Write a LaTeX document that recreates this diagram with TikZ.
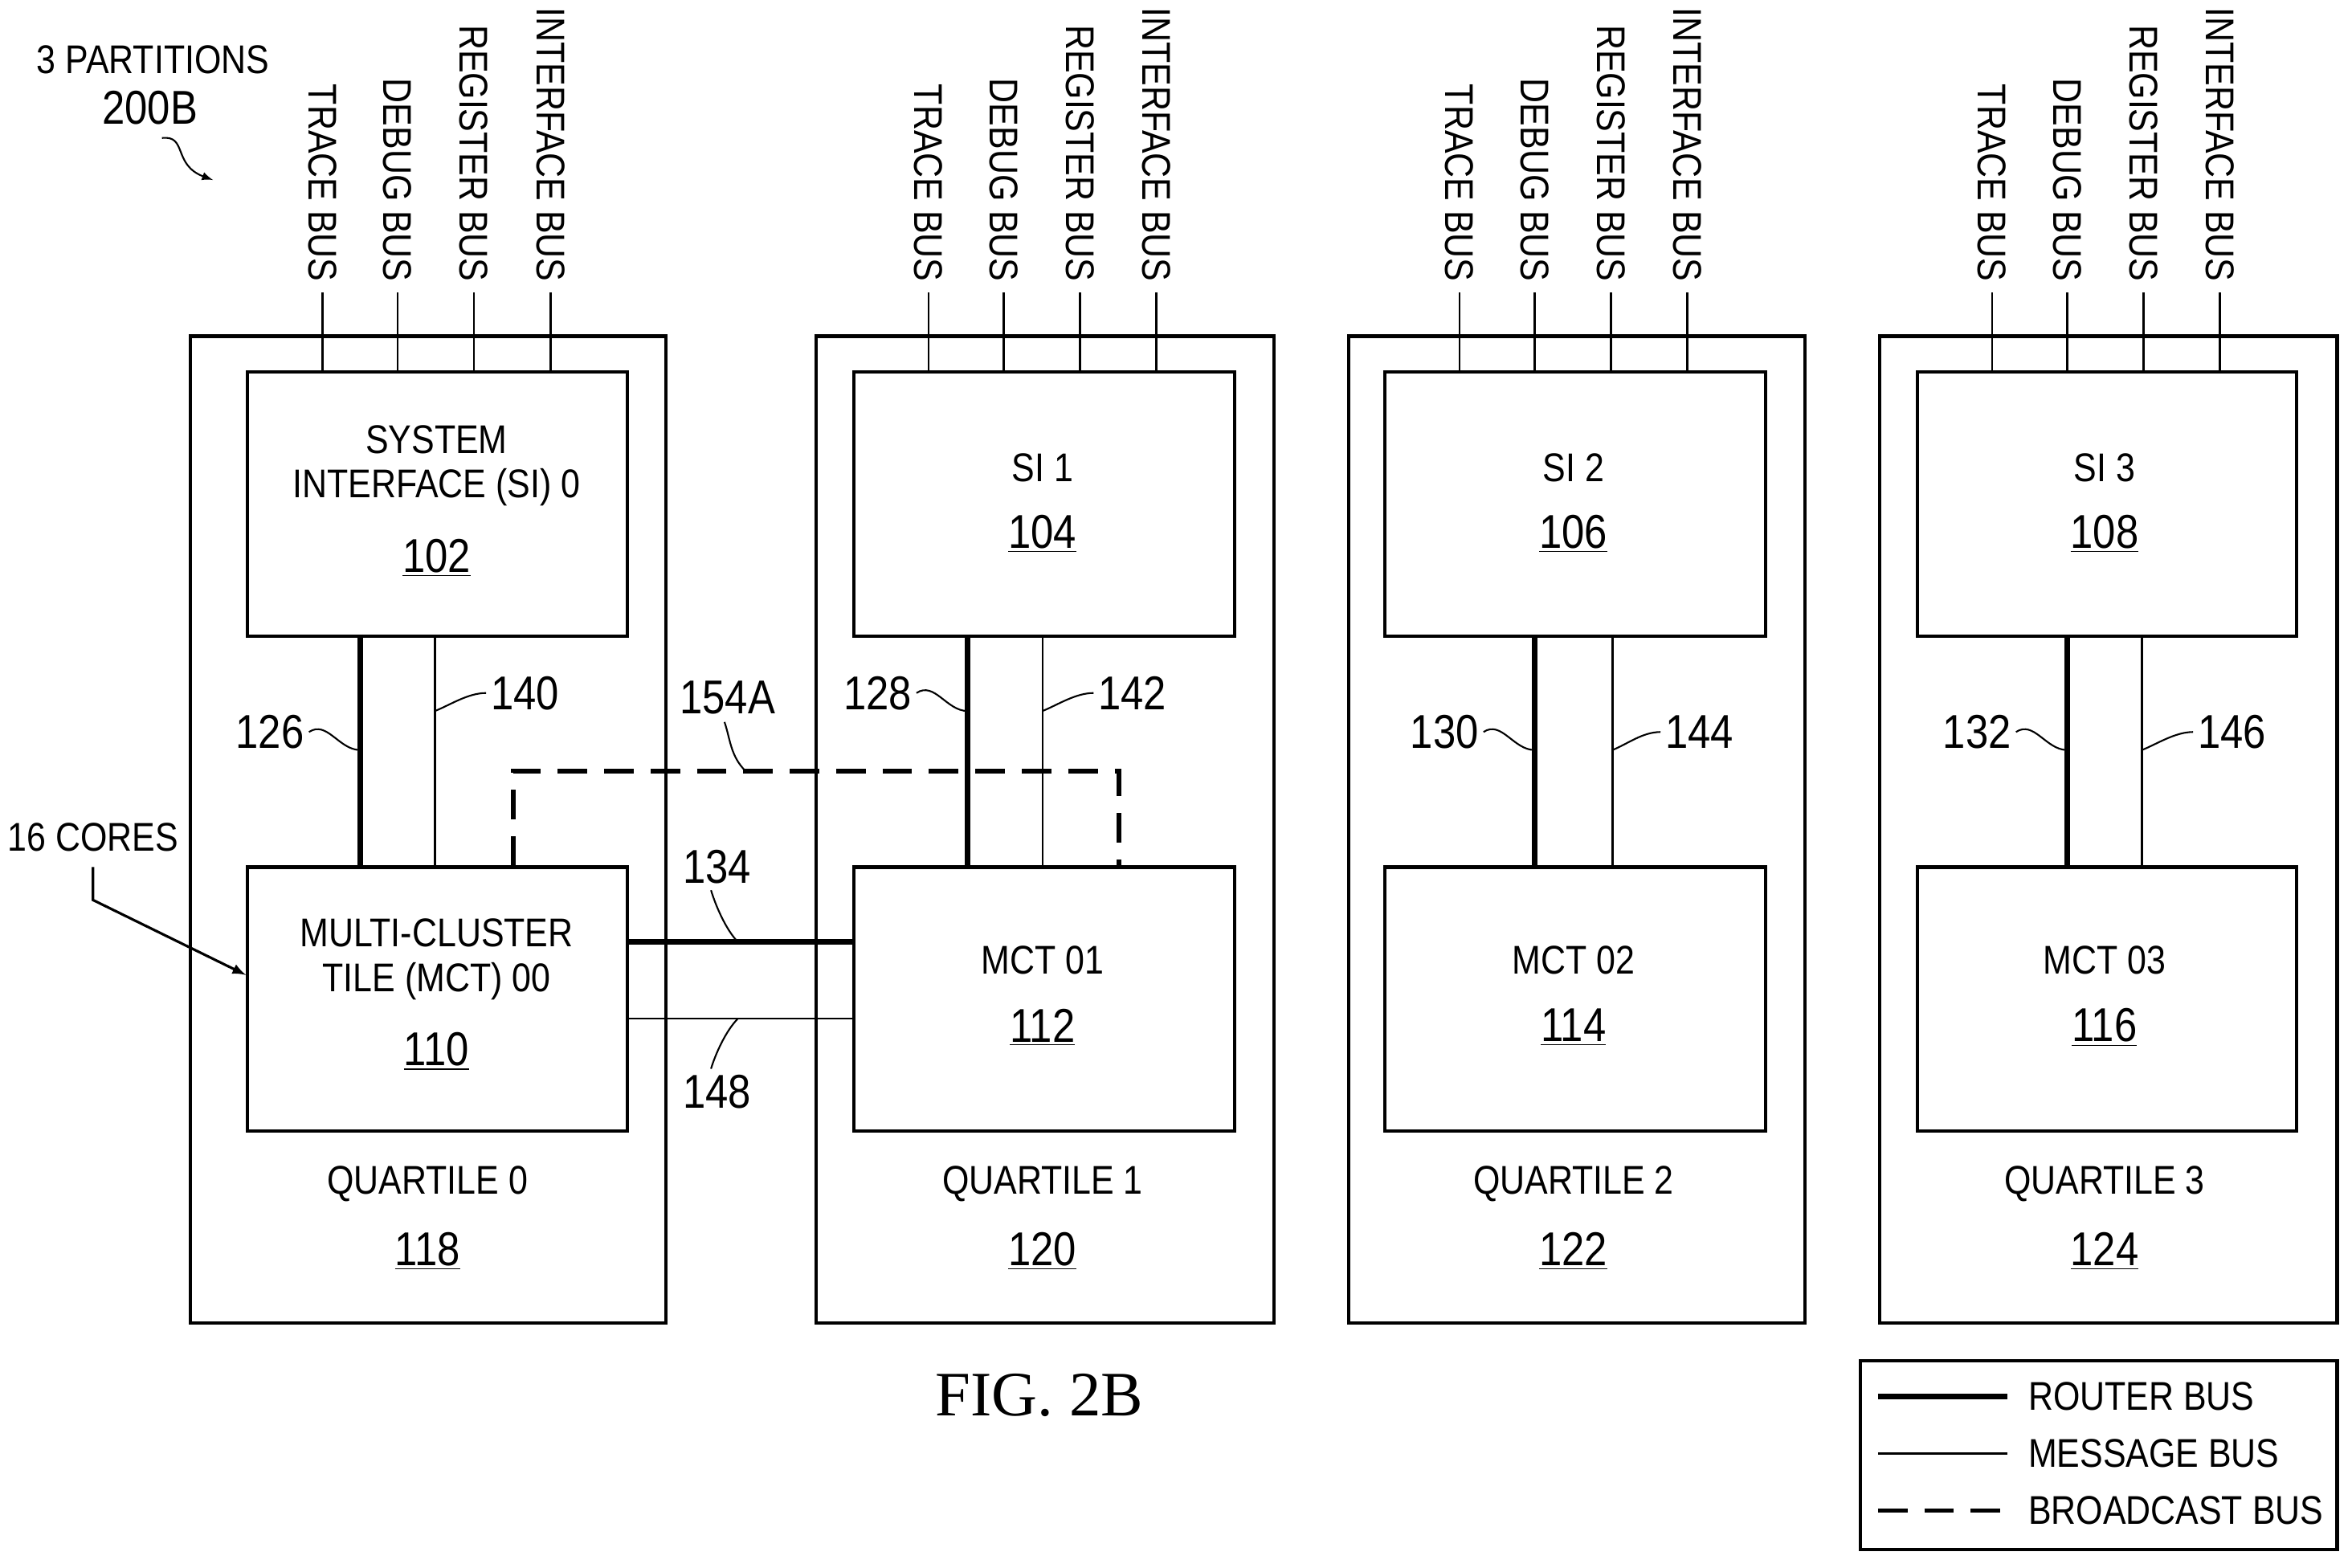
\documentclass[tikz,border=0pt]{standalone}
\usepackage{fontspec}
\setmainfont{Liberation Sans}[FakeStretch=0.86]
\newfontfamily\serifm{Liberation Serif}
\begin{document}
\begin{tikzpicture}[x=0.025cm,y=-0.025cm,
 box/.style={draw,line width=1.6pt},
 rb/.style={line width=2.6pt},
 mb/.style={line width=0.9pt},
 bb/.style={line width=2.2pt,dash pattern=on 14pt off 8pt},
 lbl/.style={font=\fontsize{19}{21}\selectfont,inner sep=0},
 num/.style={font=\fontsize{22.5}{24}\selectfont,inner sep=0},
 bus/.style={font=\fontsize{19}{21}\selectfont,inner sep=0,rotate=-90,anchor=east},
 sq/.style={line width=0.8pt}]
\useasboundingbox (0,0) rectangle (1568,1045);
% quartiles
\foreach \n/\xa/\xb/\si/\mc/\ca/\cb/\q/\qn in {0/126/443/164/417/291/285/118/0,1/543/848/568/822/695/695/120/1,2/898/1202/922/1176/1049/1049/122/2,3/1252/1557/1277/1530/1403/1403/124/3}{
 \node[box,minimum width=(\xb-\xa)*0.025cm,minimum height=658*0.025cm,anchor=north west] (q\n) at (\xa,223) {};
 \node[box,minimum width=(\mc-\si)*0.025cm,minimum height=176*0.025cm,anchor=north west] (si\n) at (\si,247) {};
 \node[box,minimum width=(\mc-\si)*0.025cm,minimum height=176*0.025cm,anchor=north west] (mct\n) at (\si,577) {};
 \node[lbl] (ql\n) at (\cb,789) {QUARTILE \qn};
 \node[num] (qn\n) at (\cb,834) {\underline{\q}};
}
% bus lines
\foreach \n/\a/\b/\c/\d in {0/215/265/316/367,1/619/669/720/771,2/973/1023/1074/1125,3/1328/1378/1429/1480}{
 \foreach \x/\t [count=\i] in {\a/TRACE BUS,\b/DEBUG BUS,\c/REGISTER BUS,\d/INTERFACE BUS}{
  \coordinate (bt\n\i) at (\x,195);
  \coordinate (bb\n\i) at (\x,247);
  \draw[mb,line width=1pt] (bt\n\i) -- (bb\n\i);
  \node[bus] (bl\n\i) at (\x,188) {\t};
 }}
% SI texts
\node[lbl] (t1) at (291,293) {SYSTEM};
\node[lbl] (t2) at (291,325) {INTERFACE (SI) 0};
\node[num] (t3) at (291,372) {\underline{102}};
\node[lbl] (t4) at (695,312) {SI 1};
\node[num] (t5) at (695,356) {\underline{104}};
\node[lbl] (t6) at (1049,312) {SI 2};
\node[num] (t7) at (1049,356) {\underline{106}};
\node[lbl] (t8) at (1403,312) {SI 3};
\node[num] (t9) at (1403,356) {\underline{108}};
\node[lbl] (m1) at (291,622) {MULTI-CLUSTER};
\node[lbl] (m2) at (291,654) {TILE (MCT) 00};
\node[num] (m3) at (291,701) {\underline{110}};
\node[lbl] (m4) at (695,640) {MCT 01};
\node[num] (m5) at (695,685) {\underline{112}};
\node[lbl] (m6) at (1049,640) {MCT 02};
\node[num] (m7) at (1049,685) {\underline{114}};
\node[lbl] (m8) at (1403,640) {MCT 03};
\node[num] (m9) at (1403,685) {\underline{116}};
% vertical buses
\foreach \n/\r/\m in {0/240/290,1/645/695,2/1023/1075,3/1378/1428}{
 \draw[rb] (\r,423) -- (\r,577);
 \draw[mb] (\m,423) -- (\m,577);
}
% horizontal between MCT0 and MCT1
\draw[rb] (mct0.east |- 0,628) -- (mct1.west |- 0,628);
\draw[mb] (mct0.east |- 0,679) -- (mct1.west |- 0,679);
% broadcast
\draw[bb] (342,577) -- (342,514) -- (746,514) -- (746,577);
% labels with squiggles
\foreach \t/\x/\y/\lx in {126/180/488/240,130/963/488/1023,132/1318/488/1378}{
 \node[num] (l\t) at (\x,\y) {\t};
 \draw[sq] (l\t.east) ++(3,0) .. controls +(12,-8) and +(-14,0) .. (\lx,500);
}
\node[num] (l128) at (585,462) {128};
\draw[sq] (l128.east) ++(3,0) .. controls +(12,-8) and +(-14,0) .. (645,474);
\foreach \t/\x/\y/\lx in {140/350/462/290,142/755/462/695,144/1133/488/1075,146/1488/488/1428}{
 \node[num] (l\t) at (\x,\y) {\t};
 \draw[sq] (l\t.west) ++(-3,0) .. controls +(-12,0) and +(10,-4) .. (\lx,474+\y-462);
}
\node[num] (l154) at (485,465) {154A};
\draw[sq] (l154.south) ++(-2,5) .. controls +(4,12) and +(-10,-10) .. (497,514);
\node[num] (l134) at (478,578) {134};
\draw[sq] (l134.south) ++(-4,4) .. controls +(3,10) and +(-8,-8) .. (492,628);
\node[num] (l148) at (478,728) {148};
\draw[sq] (l148.north) ++(-4,-4) .. controls +(3,-10) and +(-8,8) .. (492,679);
% header
\node[lbl] (p1) at (102,40) {3 PARTITIONS};
\node[num] (p2) at (100,72) {200B};
\coordinate (pa) at (142,120);
\draw[sq,-latex] (108,92) .. controls (125,90) and (115,110) .. (pa);
\node[lbl] (c16) at (62,558) {16 CORES};
\draw[line width=1.2pt,-latex] (62,578) -- (62,600) -- (mct0.west |- 0,650);
% fig
\node[inner sep=0,font=\serifm\fontsize{30}{32}\selectfont] (fig) at (693,930) {FIG. 2B};
% legend
\node[box,minimum width=318*0.025cm,minimum height=126*0.025cm,anchor=north west] (leg) at (1239,906) {};
\foreach \y/\s/\t [count=\i] in {931/rb/ROUTER BUS,969/mb/MESSAGE BUS,1007/bb/BROADCAST BUS}{
 \coordinate (la\i) at (1252,\y); \coordinate (lb\i) at (1338,\y);
 \draw[\s] (la\i) -- (lb\i);
 \node[lbl,anchor=west] (lt\i) at (1352,\y) {\t};
}
\end{tikzpicture}
\end{document}
